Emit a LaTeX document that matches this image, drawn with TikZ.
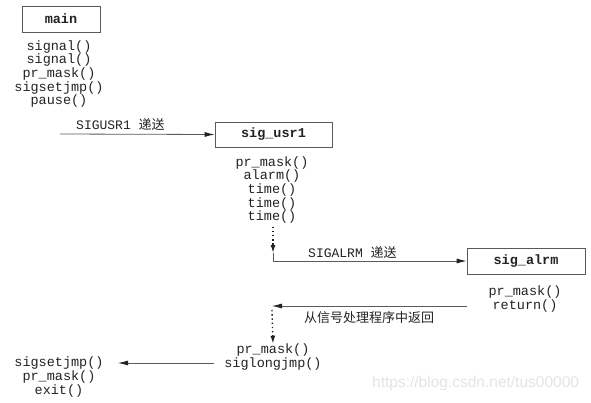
\documentclass[tikz,border=0pt]{standalone}
\usepackage{fontspec}
\setmonofont{Liberation Mono}
\newfontfamily\cjk{Noto Sans CJK SC}
\newfontfamily\wmfont{Liberation Sans}
\usetikzlibrary{arrows.meta,calc}
\definecolor{ink}{RGB}{35,35,35}
\definecolor{linec}{RGB}{90,90,90}
\definecolor{wmc}{RGB}{228,228,228}
\tikzset{
  procbox/.style={draw=linec, line width=0.8pt, minimum height=26pt, inner sep=0pt,
     font=\ttfamily\bfseries\fontsize{13.5}{12}\selectfont, text=ink},
  seq/.style={align=center, inner sep=0pt, text=ink,
     font=\ttfamily\fontsize{13.5}{12}\selectfont},
  lab/.style={inner sep=0pt, text=ink, font=\fontsize{13}{13}\selectfont},
  conn/.style={draw=linec, line width=0.8pt, -{Latex[length=10pt,width=5pt,color=ink]}},
  dotconn/.style={draw=ink, line width=1.4pt, dash pattern=on 1.4pt off 2.8pt,
     -{Latex[length=8pt,width=5pt]}},
}
\begin{document}
\begin{tikzpicture}[x=1pt,y=-1pt]
\fill[white] (0,0) rectangle (591,402);
\useasboundingbox (0,0) rectangle (591,402);

% main
\node[procbox, minimum width=78pt] (main) at (61,19) {main};
\node[seq] (mainseq) at (59,74) {signal()\\signal()\\pr\_mask()\\sigsetjmp()\\pause()};

% SIGUSR1
\coordinate (s1) at (60,134);
\node[procbox, minimum width=117pt, minimum height=25pt] (usr) at (273.5,134.5) {sig\_usr1};
\node[lab, anchor=west] (lab1) at (76,125) {\ttfamily SIGUSR1 \cjk 递送};
\draw[conn] (s1) -- (usr.west);
\node[seq] (usrseq) at (272,190) {pr\_mask()\\alarm()\\time()\\time()\\time()};

% SIGALRM
\coordinate (c1) at (273,253);
\draw[dotconn] (usrseq.south) ++(1,3) -- (c1);
\node[procbox, minimum width=118pt] (alrm) at (526,261) {sig\_alrm};
\draw[conn] (c1) |- (alrm.west);
\node[lab, anchor=west] (lab2) at (308,253) {\ttfamily SIGALRM \cjk 递送};
\node[seq] (alrmseq) at (525,299) {pr\_mask()\\return()};

% return
\coordinate (r1) at (467,306);
\coordinate (c2) at (272,306);
\draw[conn] (r1) -- (c2);
\node[lab, anchor=west] (lab3) at (304,318) {\cjk 从信号处理程序中返回};
\node[seq] (lastseq) at (273,357) {pr\_mask()\\siglongjmp()};
\draw[dotconn] (c2) ++(0,4) -- (lastseq.north);

% longjmp
\coordinate (l1) at (214,363);
\coordinate (l2) at (118,363);
\draw[conn] (l1) -- (l2);
\node[seq] (finseq) at (59,377) {sigsetjmp()\\pr\_mask()\\exit()};

% watermark
\node[inner sep=0pt, text=wmc, font=\wmfont\fontsize{15.5}{16}\selectfont, anchor=west] (wm) at (372,383) {https://blog.csdn.net/tus00000};
\end{tikzpicture}
\end{document}
